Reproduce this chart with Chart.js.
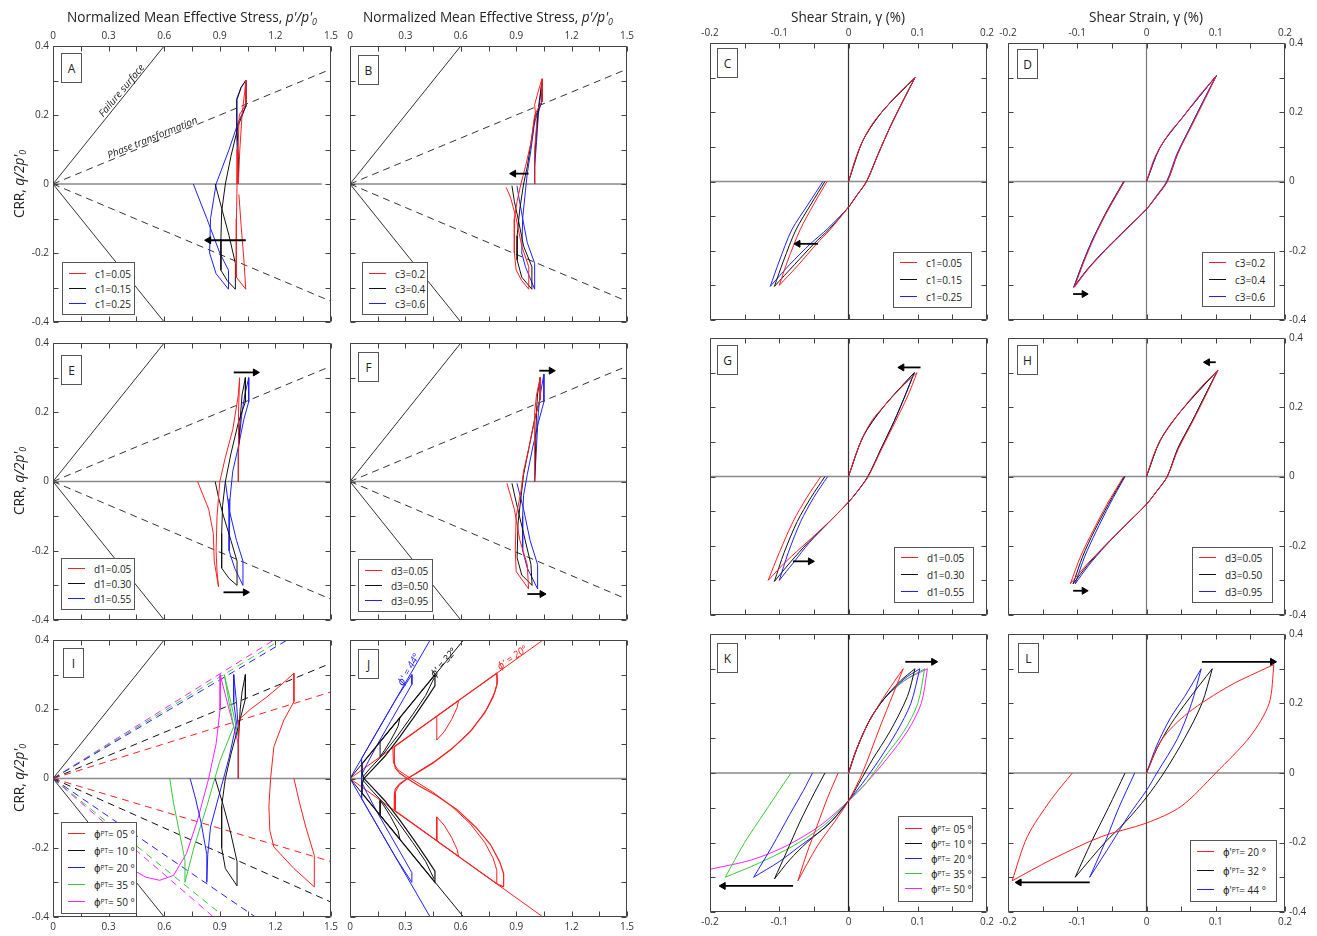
<!DOCTYPE html>
<html lang="en">
<head>
<meta charset="UTF-8" />
<title>Stress paths and stress-strain loops</title>
<script src="https://cdn.jsdelivr.net/npm/chart.js"></script>
<style>
  body { margin: 0; background: #fff; font-family: 'Open Sans', 'DejaVu Sans', sans-serif; color: #222; }
  #page { position: relative; width: 1317px; height: 936px; overflow: hidden; }
  .panel { position: absolute; }
  .title { position: absolute; font-size: 13.6px; white-space: nowrap; transform: translateX(-50%); }
  .ytitle { position: absolute; font-size: 13.6px; white-space: nowrap; transform: translate(-50%, -50%) rotate(-90deg); }
  sub { font-size: 0.65em; vertical-align: -0.3em; line-height: 0; }
  .tag { position: absolute; width: 21px; height: 30px; border: 1px solid #555; background: #fff; box-sizing: border-box;
         font-size: 12px; display: flex; align-items: center; justify-content: center; }
  .legend { position: absolute; border: 1px solid #555; background: #fff; box-sizing: border-box; display: flex;
            flex-direction: column; justify-content: flex-start; padding-left: 6px; font-size: 10px; }
  .legend .row { display: flex; align-items: center; white-space: nowrap; }
  .legend .swatch { width: 17px; height: 1px; margin-right: 9px; }
  .note { position: absolute; font-style: italic; font-size: 10px; white-space: nowrap; }
</style>
</head>
<body>
<div id="page"></div>
<script>
  // ---- colours ----
  const RED = '#ff1f1f', BLACK = '#111', BLUE = '#2020ff', GREEN = '#38c838', MAGENTA = '#ff1fff';

  // ---- reference lines (p'/p'0 , q/2p'0) ----
  const failUpper = [[0, 0], [0.6, 0.4]];
  const failLower = [[0, 0], [0.6, -0.4]];
  const ptUpper = [[0, 0], [1.5, 0.333]];
  const ptLower = [[0, 0], [1.5, -0.34]];
  const zeroShort = [[0, 0], [1.45, 0]];
  const zeroFull = [[0, 0], [1.5, 0]];
  const zeroStrainH = [[-0.2, 0], [0.2, 0]];
  const zeroStrainV = [[0, -0.4], [0, 0.4]];

  // ---- A : c1 ----
  const aRed = [[1.0,0],[1.008,0.1],[1.02,0.2],[1.035,0.27],[1.04,0.3],[1.04,0.23],[1.005,0.2],[0.998,0.1],[0.993,0],[0.99,-0.1],[0.988,-0.2],[0.99,-0.27],[1.04,-0.305],[1.03,-0.22],[1.015,-0.12],[1.003,-0.03]];
  const aBlack = [[1.0,0],[1.0,0.08],[0.993,0.16],[0.993,0.245],[1.015,0.28],[1.04,0.3],[1.04,0.225],[1.0,0.17],[0.96,0.08],[0.93,0],[0.91,-0.08],[0.906,-0.16],[0.906,-0.25],[0.94,-0.28],[0.984,-0.305],[0.984,-0.23],[0.95,-0.15],[0.91,-0.07],[0.875,0]];
  const aBlue = [[1.0,0],[0.995,0.08],[0.99,0.16],[0.99,0.245],[1.015,0.28],[1.04,0.3],[1.04,0.225],[1.0,0.18],[0.95,0.1],[0.88,0],[0.85,-0.1],[0.845,-0.2],[0.88,-0.26],[0.947,-0.305],[0.947,-0.25],[0.9,-0.2],[0.83,-0.1],[0.757,0]];
  const arrowA = [[1.04,-0.163],[0.84,-0.163]];

  // ---- B : c3 ----
  const bRed = [[1.0,0],[1.0,0.1],[1.01,0.17],[1.0,0.23],[1.02,0.27],[1.04,0.305],[1.04,0.24],[1.0,0.2],[0.98,0.12],[0.95,0.05],[0.925,0],[0.905,-0.05],[0.89,-0.1],[0.89,-0.2],[0.9,-0.25],[0.93,-0.28],[0.968,-0.305],[0.968,-0.24],[0.93,-0.18],[0.9,-0.1],[0.87,-0.04],[0.846,-0.01]];
  const bBlack = [[1.0,0],[1.0,0.08],[1.01,0.15],[1.02,0.22],[1.04,0.3],[1.04,0.24],[1.0,0.19],[0.98,0.12],[0.96,0.05],[0.94,0],[0.92,-0.07],[0.905,-0.15],[0.905,-0.22],[0.93,-0.27],[0.985,-0.305],[0.985,-0.24],[0.94,-0.18],[0.91,-0.1],[0.89,-0.05],[0.877,-0.005]];
  const bBlue = [[1.0,0],[1.0,0.05],[1.01,0.12],[1.02,0.2],[1.04,0.3],[1.04,0.24],[1.0,0.18],[0.98,0.1],[0.96,0.03],[0.95,-0.02],[0.935,-0.1],[0.93,-0.2],[0.95,-0.24],[1.0,-0.305],[1.0,-0.23],[0.96,-0.17],[0.935,-0.1],[0.915,-0.04],[0.904,-0.005]];
  const arrowB = [[0.967,0.03],[0.886,0.03]];

  // ---- E : d1 ----
  const eRed = [[1.0,0],[1.0,0.08],[1.002,0.2],[1.007,0.3],[1.0,0.25],[0.97,0.15],[0.93,0.07],[0.9,0],[0.885,-0.1],[0.88,-0.2],[0.885,-0.26],[0.893,-0.304],[0.87,-0.23],[0.865,-0.15],[0.84,-0.08],[0.78,0]];
  const eBlack = [[1.0,0],[1.0,0.08],[1.01,0.18],[1.02,0.25],[1.038,0.3],[1.038,0.23],[1.0,0.17],[0.96,0.08],[0.93,0],[0.915,-0.07],[0.91,-0.15],[0.91,-0.25],[0.95,-0.28],[0.993,-0.3],[0.993,-0.23],[0.96,-0.17],[0.92,-0.1],[0.895,-0.05],[0.875,0]];
  const eBlue = [[1.0,0],[1.0,0.1],[1.02,0.2],[1.035,0.25],[1.056,0.3],[1.056,0.23],[1.03,0.18],[1.0,0.1],[0.97,0.03],[0.955,-0.05],[0.95,-0.12],[0.95,-0.2],[0.98,-0.25],[1.025,-0.3],[1.025,-0.23],[0.99,-0.17],[0.95,-0.08],[0.93,0]];
  const arrowE1 = [[0.975,0.315],[1.092,0.315]];
  const arrowE2 = [[0.92,-0.32],[1.038,-0.32]];

  // ---- F : d3 ----
  const fRed = [[1.0,0],[1.0,0.1],[1.0,0.2],[1.01,0.25],[1.03,0.3],[1.03,0.24],[1.0,0.18],[0.97,0.1],[0.94,0.03],[0.925,-0.03],[0.9,-0.1],[0.895,-0.2],[0.9,-0.26],[0.967,-0.31],[0.96,-0.24],[0.92,-0.17],[0.89,-0.08],[0.85,-0.005]];
  const fBlack = [[1.0,0],[1.005,0.1],[1.01,0.2],[1.015,0.25],[1.03,0.3],[1.03,0.24],[1.0,0.18],[0.97,0.1],[0.94,0.02],[0.925,-0.05],[0.91,-0.12],[0.905,-0.22],[0.93,-0.27],[0.986,-0.3],[0.98,-0.24],[0.94,-0.15],[0.9,-0.06],[0.877,-0.005]];
  const fBlue = [[1.0,0],[1.01,0.1],[1.02,0.2],[1.03,0.25],[1.05,0.31],[1.05,0.23],[1.02,0.17],[0.99,0.1],[0.96,0.02],[0.94,-0.04],[0.935,-0.1],[0.935,-0.2],[0.96,-0.25],[1.016,-0.31],[1.016,-0.24],[0.975,-0.17],[0.94,-0.08],[0.904,-0.005]];
  const arrowF1 = [[1.025,0.32],[1.09,0.32]];
  const arrowF2 = [[0.96,-0.325],[1.04,-0.325]];

  // ---- I : phi_PT ----
  const ptColorsI = [RED, BLACK, BLUE, GREEN, MAGENTA];
  const ptUpperEndI = [[1.5,0.25],[1.5,0.333],[1.264,0.4],[1.228,0.4],[1.192,0.4]];
  const ptLowerEndI = [[1.5,-0.24],[1.5,-0.357],[1.092,-0.4],[0.893,-0.386],[0.866,-0.4]];
  const iRed = [[1.0,0],[1.0,0.08],[1.002,0.169],[1.065,0.2],[1.155,0.236],[1.23,0.27],[1.3,0.304],[1.3,0.222],[1.246,0.169],[1.192,0.092],[1.174,0],[1.165,-0.08],[1.17,-0.15],[1.192,-0.198],[1.3,-0.26],[1.41,-0.313],[1.41,-0.222],[1.364,-0.14],[1.33,-0.07],[1.3,0]];
  const iBlack = [[1.0,0],[1.0,0.1],[1.01,0.2],[1.02,0.25],[1.038,0.3],[1.038,0.23],[1.0,0.15],[0.96,0.07],[0.93,0],[0.91,-0.08],[0.91,-0.2],[0.93,-0.26],[0.993,-0.31],[0.993,-0.24],[0.96,-0.16],[0.92,-0.08],[0.875,0]];
  const iBlue = [[1.0,0],[1.0,0.14],[0.99,0.22],[0.975,0.3],[0.975,0.22],[0.99,0.16],[0.95,0.06],[0.9,-0.04],[0.85,-0.14],[0.835,-0.22],[0.83,-0.3],[0.83,-0.22],[0.8,-0.13],[0.77,-0.06],[0.74,0]];
  const iGreen = [[1.0,0],[1.0,0.12],[0.96,0.22],[0.924,0.3],[0.95,0.22],[0.975,0.15],[0.9,0.05],[0.83,-0.08],[0.76,-0.2],[0.712,-0.3],[0.712,-0.236],[0.68,-0.15],[0.65,-0.07],[0.63,0]];
  const iMagenta = [[1.0,0],[1.0,0.1],[0.95,0.2],[0.902,0.3],[0.902,0.2],[0.88,0.1],[0.84,0],[0.78,-0.12],[0.72,-0.217],[0.65,-0.28],[0.576,-0.294],[0.5,-0.285],[0.42,-0.26],[0.35,-0.235]];

  // ---- J : phi' ----
  const jFailEnds = [[0.434,0.4],[0.615,0.4],[1.045,0.4]];
  const jFailColors = [BLUE, BLACK, RED];
  const jRedA = [[0.832,-0.313],[0.832,-0.275],[0.81,-0.24],[0.76,-0.19],[0.68,-0.14],[0.58,-0.09],[0.47,-0.05],[0.37,-0.02],[0.31,0],[0.27,0.015],[0.245,0.03],[0.24,0.05],[0.24,0.092],[0.4,0.153],[0.6,0.23],[0.795,0.304],[0.795,0.27],[0.775,0.235],[0.73,0.19],[0.65,0.135],[0.55,0.085],[0.45,0.045],[0.36,0.015],[0.31,0],[0.27,-0.015],[0.245,-0.03],[0.24,-0.05],[0.24,-0.092],[0.4,-0.153],[0.6,-0.23],[0.795,-0.304],[0.832,-0.313]];
  const jRedB = [[0.795,-0.304],[0.795,-0.265],[0.775,-0.23],[0.73,-0.185],[0.65,-0.13],[0.55,-0.08],[0.45,-0.04],[0.36,-0.01],[0.3,0.01],[0.26,0.025],[0.235,0.045],[0.232,0.09]];
  const jRedC = [[0.795,0.304],[0.8,0.28],[0.785,0.25],[0.74,0.2],[0.66,0.14],[0.56,0.09],[0.46,0.05],[0.37,0.02],[0.3,-0.005],[0.265,-0.02],[0.245,-0.04],[0.245,-0.09]];
  const jRedInUp = [[0.47,0.111],[0.47,0.18],[0.588,0.225],[0.58,0.205],[0.55,0.17],[0.51,0.135],[0.47,0.111]];
  const jRedInLow = [[0.47,-0.111],[0.47,-0.18],[0.588,-0.225],[0.58,-0.205],[0.55,-0.17],[0.51,-0.135],[0.47,-0.111]];
  const jBlackA = [[0.46,0.3],[0.46,0.268],[0.42,0.235],[0.35,0.18],[0.27,0.12],[0.19,0.065],[0.12,0.025],[0.075,0],[0.066,-0.015],[0.066,-0.043],[0.2,-0.13],[0.33,-0.215],[0.46,-0.3],[0.46,-0.268],[0.42,-0.235],[0.35,-0.18],[0.27,-0.12],[0.19,-0.065],[0.12,-0.025],[0.075,0],[0.066,0.015],[0.066,0.043],[0.2,0.13],[0.33,0.215],[0.46,0.3]];
  const jBlackB = [[0.455,0.29],[0.41,0.24],[0.34,0.185],[0.26,0.125],[0.18,0.07],[0.11,0.03],[0.07,0.005]];
  const jBlackC = [[0.455,-0.29],[0.41,-0.24],[0.34,-0.185],[0.26,-0.125],[0.18,-0.07],[0.11,-0.03],[0.07,-0.005]];
  const jBlackInUp = [[0.163,0.063],[0.163,0.106],[0.27,0.175],[0.26,0.15],[0.22,0.11],[0.185,0.08],[0.163,0.063]];
  const jBlackInLow = [[0.163,-0.063],[0.163,-0.106],[0.27,-0.175],[0.26,-0.15],[0.22,-0.11],[0.185,-0.08],[0.163,-0.063]];
  const jBlue = [[0.335,0.3],[0.335,0.272],[0.29,0.23],[0.22,0.165],[0.15,0.1],[0.09,0.04],[0.063,0.01],[0.063,-0.058],[0.15,-0.138],[0.25,-0.23],[0.335,-0.3],[0.335,-0.272],[0.29,-0.23],[0.22,-0.165],[0.15,-0.1],[0.09,-0.04],[0.063,-0.01],[0.063,0.058],[0.15,0.138],[0.25,0.23],[0.335,0.3]];

  // ---- C : c1, shear strain (%) vs CRR ----
  const cRed = [[0,0],[0.01,0.065],[0.021,0.119],[0.035,0.168],[0.05,0.205],[0.074,0.258],[0.096,0.3],[0.078,0.23],[0.06,0.157],[0.043,0.08],[0.026,0],[0.012,-0.04],[0,-0.074],[-0.027,-0.14],[-0.046,-0.18],[-0.072,-0.24],[-0.1,-0.3],[-0.088,-0.23],[-0.07,-0.14],[-0.05,-0.065],[-0.031,0]];
  const cBlack = [[0,0],[0.021,0.119],[0.05,0.205],[0.096,0.3],[0.078,0.23],[0.06,0.157],[0.043,0.08],[0.026,0],[0.012,-0.04],[0,-0.074],[-0.028,-0.138],[-0.05,-0.18],[-0.078,-0.24],[-0.107,-0.303],[-0.094,-0.23],[-0.076,-0.14],[-0.054,-0.065],[-0.034,0]];
  const cBlue = [[0,0],[0.021,0.119],[0.05,0.205],[0.096,0.3],[0.078,0.23],[0.06,0.157],[0.043,0.08],[0.026,0],[0.012,-0.04],[0,-0.074],[-0.03,-0.136],[-0.055,-0.18],[-0.085,-0.24],[-0.113,-0.303],[-0.1,-0.23],[-0.082,-0.14],[-0.058,-0.065],[-0.037,0]];
  const arrowC = [[-0.044,-0.18],[-0.073,-0.18]];

  // ---- D : c3 ----
  const dRed = [[0,0],[0.01,0.06],[0.02,0.1],[0.035,0.145],[0.05,0.18],[0.075,0.245],[0.101,0.306],[0.085,0.24],[0.065,0.16],[0.045,0.08],[0.03,0],[0.015,-0.042],[0,-0.079],[-0.03,-0.14],[-0.06,-0.2],[-0.085,-0.255],[-0.104,-0.305],[-0.09,-0.23],[-0.075,-0.16],[-0.055,-0.08],[-0.032,0]];
  const dBlack = [[0,0],[0.02,0.1],[0.05,0.18],[0.101,0.306],[0.084,0.24],[0.064,0.16],[0.045,0.08],[0.03,0],[0.015,-0.042],[0,-0.08],[-0.031,-0.14],[-0.061,-0.2],[-0.086,-0.255],[-0.105,-0.305],[-0.091,-0.23],[-0.076,-0.16],[-0.056,-0.08],[-0.033,0]];
  const dBlue = [[0,0],[0.02,0.1],[0.05,0.18],[0.101,0.306],[0.084,0.24],[0.064,0.16],[0.044,0.08],[0.029,0],[0.014,-0.042],[0,-0.08],[-0.031,-0.141],[-0.061,-0.2],[-0.086,-0.256],[-0.105,-0.306],[-0.091,-0.231],[-0.076,-0.16],[-0.055,-0.08],[-0.032,0]];
  const arrowD = [[-0.106,-0.325],[-0.09,-0.325]];

  // ---- G : d1 ----
  const gRed = [[0,0],[0.01,0.06],[0.021,0.115],[0.035,0.165],[0.05,0.2],[0.075,0.255],[0.099,0.3],[0.085,0.23],[0.068,0.16],[0.048,0.08],[0.0285,0],[0.014,-0.04],[0,-0.074],[-0.03,-0.135],[-0.06,-0.19],[-0.09,-0.245],[-0.116,-0.3],[-0.1,-0.22],[-0.08,-0.13],[-0.06,-0.06],[-0.04,0]];
  const gBlack = [[0,0],[0.021,0.115],[0.05,0.2],[0.095,0.3],[0.081,0.23],[0.066,0.16],[0.047,0.08],[0.028,0],[0.014,-0.04],[0,-0.074],[-0.03,-0.135],[-0.058,-0.19],[-0.085,-0.25],[-0.107,-0.303],[-0.093,-0.22],[-0.074,-0.13],[-0.054,-0.06],[-0.034,0]];
  const gBlue = [[0,0],[0.021,0.115],[0.05,0.2],[0.095,0.3],[0.081,0.23],[0.066,0.16],[0.047,0.08],[0.028,0],[0.014,-0.04],[0,-0.074],[-0.03,-0.136],[-0.056,-0.19],[-0.08,-0.25],[-0.1,-0.3],[-0.087,-0.22],[-0.069,-0.13],[-0.05,-0.06],[-0.03,0]];
  const arrowG1 = [[0.104,0.315],[0.077,0.315]];
  const arrowG2 = [[-0.08,-0.245],[-0.055,-0.245]];

  // ---- H : d3 ----
  const hRed = [[0,0],[0.01,0.06],[0.02,0.105],[0.035,0.15],[0.05,0.19],[0.075,0.25],[0.103,0.307],[0.087,0.24],[0.067,0.16],[0.046,0.08],[0.03,0],[0.015,-0.042],[0,-0.08],[-0.03,-0.14],[-0.06,-0.2],[-0.088,-0.258],[-0.11,-0.31],[-0.095,-0.23],[-0.078,-0.16],[-0.057,-0.08],[-0.033,0]];
  const hBlack = [[0,0],[0.02,0.105],[0.05,0.19],[0.103,0.307],[0.086,0.24],[0.066,0.16],[0.045,0.08],[0.03,0],[0.015,-0.042],[0,-0.08],[-0.03,-0.14],[-0.06,-0.2],[-0.086,-0.258],[-0.106,-0.31],[-0.092,-0.23],[-0.076,-0.16],[-0.055,-0.08],[-0.032,0]];
  const hBlue = [[0,0],[0.02,0.105],[0.05,0.19],[0.103,0.307],[0.086,0.24],[0.066,0.16],[0.045,0.08],[0.03,0],[0.015,-0.042],[0,-0.08],[-0.03,-0.14],[-0.059,-0.2],[-0.084,-0.258],[-0.103,-0.31],[-0.089,-0.23],[-0.073,-0.16],[-0.053,-0.08],[-0.031,0]];
  const arrowH1 = [[0.1,0.33],[0.088,0.33]];
  const arrowH2 = [[-0.106,-0.33],[-0.09,-0.33]];

  // ---- K : phi_PT ----
  const kRed = [[0,0],[0.01,0.06],[0.025,0.13],[0.045,0.2],[0.065,0.26],[0.079,0.3],[0.065,0.23],[0.045,0.13],[0.02,0],[0,-0.08],[-0.02,-0.14],[-0.045,-0.21],[-0.073,-0.31],[-0.06,-0.23],[-0.045,-0.15],[-0.03,-0.07],[-0.015,0]];
  const kBlack = [[0,0],[0.012,0.07],[0.03,0.15],[0.05,0.21],[0.075,0.265],[0.096,0.3],[0.085,0.22],[0.06,0.12],[0.035,0.04],[0.015,-0.03],[0,-0.08],[-0.025,-0.14],[-0.06,-0.2],[-0.085,-0.25],[-0.107,-0.305],[-0.09,-0.23],[-0.07,-0.14],[-0.05,-0.06],[-0.034,0]];
  const kBlue = [[0,0],[0.012,0.07],[0.03,0.15],[0.05,0.21],[0.08,0.27],[0.103,0.3],[0.09,0.2],[0.07,0.12],[0.045,0.04],[0.02,-0.03],[0,-0.08],[-0.03,-0.15],[-0.07,-0.21],[-0.1,-0.255],[-0.137,-0.3],[-0.11,-0.21],[-0.085,-0.12],[-0.065,-0.05],[-0.052,0]];
  const kGreen = [[0,0],[0.012,0.07],[0.03,0.15],[0.05,0.21],[0.08,0.265],[0.11,0.3],[0.1,0.2],[0.08,0.12],[0.05,0.04],[0.025,-0.03],[0,-0.08],[-0.035,-0.15],[-0.08,-0.21],[-0.13,-0.26],[-0.178,-0.3],[-0.15,-0.2],[-0.12,-0.11],[-0.1,-0.05],[-0.083,0]];
  const kMagenta = [[0,0],[0.012,0.07],[0.03,0.15],[0.05,0.21],[0.08,0.265],[0.114,0.3],[0.105,0.2],[0.085,0.12],[0.055,0.04],[0.025,-0.03],[0,-0.08],[-0.04,-0.15],[-0.09,-0.21],[-0.14,-0.25],[-0.2,-0.277]];
  const arrowK1 = [[0.082,0.32],[0.123,0.32]];
  const arrowK2 = [[-0.08,-0.325],[-0.181,-0.325]];

  // ---- L : phi' ----
  const lRed = [[0,0],[0.022,0.096],[0.06,0.173],[0.119,0.25],[0.16,0.29],[0.184,0.312],[0.177,0.2],[0.15,0.106],[0.1,0],[0.05,-0.096],[0,-0.144],[-0.065,-0.183],[-0.138,-0.25],[-0.194,-0.31],[-0.172,-0.183],[-0.138,-0.077],[-0.107,0]];
  const lBlack = [[0,0],[0.015,0.07],[0.035,0.14],[0.06,0.21],[0.095,0.3],[0.08,0.2],[0.055,0.1],[0.025,0],[0,-0.07],[-0.03,-0.14],[-0.06,-0.2],[-0.103,-0.3],[-0.08,-0.2],[-0.055,-0.1],[-0.031,0]];
  const lBlue = [[0,0],[0.015,0.08],[0.035,0.16],[0.055,0.22],[0.079,0.3],[0.065,0.2],[0.045,0.1],[0.015,0],[0,-0.05],[-0.025,-0.12],[-0.05,-0.2],[-0.082,-0.3],[-0.06,-0.2],[-0.04,-0.1],[-0.017,0]];
  const arrowL1 = [[0.08,0.32],[0.182,0.32]];
  const arrowL2 = [[-0.082,-0.315],[-0.184,-0.315]];

  // ---- legends ----
  const legC1 = ['c1=0.05', 'c1=0.15', 'c1=0.25'];
  const legC3 = ['c3=0.2', 'c3=0.4', 'c3=0.6'];
  const legD1 = ['d1=0.05', 'd1=0.30', 'd1=0.55'];
  const legD3 = ['d3=0.05', 'd3=0.50', 'd3=0.95'];
  const legPhiPT = ['05', '10', '20', '35', '50'];
  const legPhi = ['20', '32', '44'];

  // ---------------------------------------------------------------
  const page = document.getElementById('page');
  const PAD = 40;
  const FONT = "'Open Sans', 'DejaVu Sans', sans-serif";

  const xy = pts => pts.map(([x, y]) => ({ x, y }));

  function line(pts, color, extra) {
    return Object.assign({ data: xy(pts), showLine: true, borderColor: color, backgroundColor: color,
      borderWidth: 1, pointRadius: 0, tension: 0, fill: false }, extra || {});
  }
  function dashed(pts, color) { return line(pts, color, { borderDash: [7, 5] }); }

  // split a loop at every reversal of loading direction, so tips stay sharp
  function runs(pts) {
    const out = []; let cur = [pts[0]]; let dir = 0;
    for (let i = 1; i < pts.length; i++) {
      const d = Math.sign(pts[i][1] - pts[i - 1][1]);
      if (dir && d && d !== dir) { out.push(cur); cur = [pts[i - 1]]; }
      if (d) dir = d;
      cur.push(pts[i]);
    }
    out.push(cur);
    return out;
  }
  const loop = (pts, color) => runs(pts).map(r => line(r, color, { tension: 0.3 }));

  function arrow(pts, dir) {
    return line(pts, '#000', { borderWidth: 1.8, pointRadius: [0, 4], pointStyle: 'triangle',
      rotation: dir === 'right' ? 90 : -90, pointBackgroundColor: '#000', pointBorderColor: '#000', pointBorderWidth: 1 });
  }

  function tickText(v, every) {
    const k = v / every;
    if (Math.abs(k - Math.round(k)) > 1e-6) return '';
    return String(Math.round(v * 100) / 100);
  }

  const frame = {
    id: 'frame',
    afterDatasetsDraw(chart) {
      const { ctx, chartArea: a, scales: { x, y } } = chart;
      const L = Math.round(a.left) + 0.5, R = Math.round(a.right) - 0.5;
      const T = Math.round(a.top) + 0.5, B = Math.round(a.bottom) - 0.5;
      ctx.save();
      ctx.strokeStyle = '#444';
      ctx.lineWidth = 1;
      ctx.beginPath();
      ctx.rect(L, T, R - L, B - T);
      x.ticks.forEach(t => {
        const p = Math.round(x.getPixelForValue(t.value)) + 0.5;
        ctx.moveTo(p, T); ctx.lineTo(p, T + 5);
        ctx.moveTo(p, B); ctx.lineTo(p, B - 5);
      });
      y.ticks.forEach(t => {
        const p = Math.round(y.getPixelForValue(t.value)) + 0.5;
        ctx.moveTo(L, p); ctx.lineTo(L + 5, p);
        ctx.moveTo(R, p); ctx.lineTo(R - 5, p);
      });
      ctx.stroke();
      ctx.restore();
    }
  };

  const STRESS = { xmin: 0, xmax: 1.5, xstep: 0.15, xevery: 0.3 };
  const STRAIN = { xmin: -0.2, xmax: 0.2, xstep: 0.05, xevery: 0.1 };

  function panel(box, kind, xAxis, yAxis, datasets) {
    const div = document.createElement('div');
    div.className = 'panel';
    div.style.left = (box.x - PAD) + 'px';
    div.style.top = (box.y - PAD) + 'px';
    const canvas = document.createElement('canvas');
    canvas.width = box.w + 2 * PAD;
    canvas.height = box.h + 2 * PAD;
    div.appendChild(canvas);
    page.appendChild(div);
    const tickFont = { family: FONT, size: 10 };
    const noGrid = { display: false, drawTicks: false };
    new Chart(canvas, {
      type: 'scatter',
      data: { datasets },
      options: {
        responsive: false, animation: false, events: [],
        layout: { padding: { left: yAxis === 'left' ? 0 : PAD, right: yAxis === 'right' ? 0 : PAD,
                             top: xAxis === 'top' ? 0 : PAD, bottom: xAxis === 'bottom' ? 0 : PAD } },
        plugins: { legend: { display: false }, tooltip: { enabled: false } },
        scales: {
          x: { type: 'linear', min: kind.xmin, max: kind.xmax, position: xAxis || 'bottom', display: !!xAxis,
               afterFit: s => { s.height = xAxis ? PAD : 0; },
               grid: noGrid, border: { display: false },
               ticks: { stepSize: kind.xstep, autoSkip: false, maxRotation: 0, padding: 4, color: '#333', font: tickFont,
                        callback: v => tickText(v, kind.xevery) } },
          y: { type: 'linear', min: -0.4, max: 0.4, position: yAxis || 'left', display: !!yAxis,
               afterFit: s => { s.width = yAxis ? PAD : 0; },
               grid: noGrid, border: { display: false },
               ticks: { stepSize: 0.1, autoSkip: false, padding: 4, color: '#333', font: tickFont,
                        callback: v => tickText(v, 0.2) } }
        }
      },
      plugins: [frame]
    });
  }

  const stressRefs = zero => [line(failUpper, '#333'), line(failLower, '#333'), dashed(ptUpper, '#333'), dashed(ptLower, '#333'),
                              line(zero, '#8a8a8a', { borderWidth: 1.6 })];
  const strainRefs = vcol => [line(zeroStrainH, '#8a8a8a', { borderWidth: 1.6 }), line(zeroStrainV, vcol, { borderWidth: 1.2 })];

  // ---- panels ----
  panel({ x: 53, y: 46, w: 278, h: 276 }, STRESS, 'top', 'left',
    [arrow(arrowA, 'left'), line(aRed, RED), line(aBlack, BLACK), line(aBlue, BLUE), ...stressRefs(zeroShort)]);
  panel({ x: 350, y: 46, w: 277, h: 276 }, STRESS, 'top', null,
    [arrow(arrowB, 'left'), line(bRed, RED), line(bBlack, BLACK), line(bBlue, BLUE), ...stressRefs(zeroFull)]);
  panel({ x: 53, y: 343, w: 278, h: 277 }, STRESS, null, 'left',
    [arrow(arrowE1, 'right'), arrow(arrowE2, 'right'), line(eRed, RED), line(eBlack, BLACK), line(eBlue, BLUE), ...stressRefs(zeroFull)]);
  panel({ x: 350, y: 343, w: 277, h: 277 }, STRESS, null, null,
    [arrow(arrowF1, 'right'), arrow(arrowF2, 'right'), line(fRed, RED), line(fBlack, BLACK), line(fBlue, BLUE), ...stressRefs(zeroFull)]);

  const iPT = [];
  ptColorsI.forEach((c, k) => { iPT.push(dashed([[0, 0], ptUpperEndI[k]], c), dashed([[0, 0], ptLowerEndI[k]], c)); });
  panel({ x: 53, y: 640, w: 278, h: 277 }, STRESS, 'bottom', 'left',
    [line(iRed, RED), line(iBlack, BLACK), line(iBlue, BLUE), line(iGreen, GREEN), line(iMagenta, MAGENTA), ...iPT,
     line(failUpper, '#333'), line(failLower, '#333'), line(zeroFull, '#8a8a8a', { borderWidth: 1.6 })]);

  const jFail = [];
  jFailColors.forEach((c, k) => { const e = jFailEnds[k]; jFail.push(line([[0, 0], e], c), line([[0, 0], [e[0], -e[1]]], c)); });
  const jw = { borderWidth: 1.2 };
  panel({ x: 350, y: 640, w: 277, h: 277 }, STRESS, 'bottom', null,
    [line(jRedA, RED, jw), line(jRedB, RED), line(jRedC, RED), line(jRedInUp, RED), line(jRedInLow, RED),
     line(jBlackA, BLACK, jw), line(jBlackB, BLACK), line(jBlackC, BLACK), line(jBlackInUp, BLACK), line(jBlackInLow, BLACK),
     line(jBlue, BLUE), ...jFail, line(zeroFull, '#8a8a8a', { borderWidth: 1.6 })]);

  panel({ x: 710, y: 43, w: 277, h: 277 }, STRAIN, 'top', null,
    [arrow(arrowC, 'left'), ...loop(cRed, RED), ...loop(cBlack, BLACK), ...loop(cBlue, BLUE), ...strainRefs('#333')]);
  panel({ x: 1008, y: 43, w: 277, h: 277 }, STRAIN, 'top', 'right',
    [arrow(arrowD, 'right'), ...loop(dRed, RED), ...loop(dBlue, BLUE), ...loop(dBlack, BLACK), ...strainRefs('#777')]);
  panel({ x: 710, y: 338, w: 277, h: 277 }, STRAIN, null, null,
    [arrow(arrowG1, 'left'), arrow(arrowG2, 'right'), ...loop(gRed, RED), ...loop(gBlack, BLACK), ...loop(gBlue, BLUE), ...strainRefs('#333')]);
  panel({ x: 1008, y: 338, w: 277, h: 277 }, STRAIN, null, 'right',
    [arrow(arrowH1, 'left'), arrow(arrowH2, 'right'), ...loop(hRed, RED), ...loop(hBlack, BLACK), ...loop(hBlue, BLUE), ...strainRefs('#777')]);
  panel({ x: 710, y: 634, w: 277, h: 278 }, STRAIN, 'bottom', null,
    [arrow(arrowK1, 'right'), arrow(arrowK2, 'left'), ...loop(kRed, RED), ...loop(kBlack, BLACK), ...loop(kBlue, BLUE),
     ...loop(kGreen, GREEN), ...loop(kMagenta, MAGENTA), ...strainRefs('#222')]);
  panel({ x: 1008, y: 634, w: 277, h: 278 }, STRAIN, 'bottom', 'right',
    [arrow(arrowL1, 'right'), arrow(arrowL2, 'left'), ...loop(lRed, RED), ...loop(lBlack, BLACK), ...loop(lBlue, BLUE), ...strainRefs('#444')]);

  // ---- text overlays ----
  function add(cls, html, style) {
    const d = document.createElement('div');
    d.className = cls;
    d.innerHTML = html;
    Object.assign(d.style, style);
    page.appendChild(d);
    return d;
  }
  const stressTitle = "Normalized Mean Effective Stress, <i>p'/p'<sub>0</sub></i>";
  add('title', stressTitle, { left: '192px', top: '7px' });
  add('title', stressTitle, { left: '488px', top: '7px' });
  add('title', 'Shear Strain, γ (%)', { left: '848px', top: '7px' });
  add('title', 'Shear Strain, γ (%)', { left: '1146px', top: '7px' });
  [184, 481, 778].forEach(cy => add('ytitle', "CRR, <i>q/2p'<sub>0</sub></i>", { left: '18px', top: cy + 'px' }));

  const tags = [['A', 61, 53], ['B', 358, 55], ['C', 717, 48], ['D', 1017, 49], ['E', 61, 355], ['F', 358, 352],
                ['G', 717, 345], ['H', 1017, 345], ['I', 63, 648], ['J', 358, 649], ['K', 717, 643], ['L', 1018, 643]];
  tags.forEach(([t, x, y]) => add('tag', t, { left: x + 'px', top: y + 'px' }));

  // rows get an odd whole-pixel height so the 1px swatch lands on a pixel row
  function legend(labels, colors, r) {
    const inner = r[3] - 2;
    let rowH = Math.floor((inner - 2) / labels.length);
    if (rowH % 2 === 0) rowH -= 1;
    const top = Math.floor((inner - rowH * labels.length) / 2);
    const rows = labels.map((t, k) =>
      `<div class="row" style="height:${rowH}px"><span class="swatch" style="background:${colors[k]}"></span>${t}</div>`).join('');
    add('legend', rows, { left: r[0] + 'px', top: r[1] + 'px', width: r[2] + 'px', height: r[3] + 'px', paddingTop: top + 'px' });
  }
  const RGB = [RED, BLACK, BLUE];
  legend(legC1, RGB, [62, 262, 73, 53]);
  legend(legC3, RGB, [362, 262, 66, 53]);
  legend(legC1, RGB, [893, 252, 79, 56]);
  legend(legC3, RGB, [1202, 252, 73, 55]);
  legend(legD1, RGB, [61, 558, 74, 52]);
  legend(legD3, RGB, [358, 559, 75, 53]);
  legend(legD1, RGB, [894, 547, 80, 56]);
  legend(legD3, RGB, [1192, 547, 81, 56]);
  const phiPT = legPhiPT.map(v => `ϕ <sub>PT</sub>= ${v} °`);
  legend(phiPT, ptColorsI, [61, 822, 76, 92]);
  legend(phiPT, ptColorsI, [898, 816, 75, 86]);
  legend(legPhi.map(v => `ϕ' <sub>PT</sub> = ${v} °`), RGB, [1190, 840, 87, 62]);

  function note(text, color, cx, cy, deg) {
    const d = add('note', text, { color, left: cx + 'px', top: cy + 'px' });
    d.style.transform = `translate(-50%, -50%) rotate(${deg}deg)`;
  }
  note('Failure surface', '#222', 121, 90, -50);
  note('Phase transformation', '#222', 152, 137, -22);
  note("ϕ' = 44°", BLUE, 408, 669, -60);
  note("ϕ' = 32°", BLACK, 443, 662, -50);
  note("ϕ' = 20°", RED, 512, 657, -35);
</script>
</body>
</html>
